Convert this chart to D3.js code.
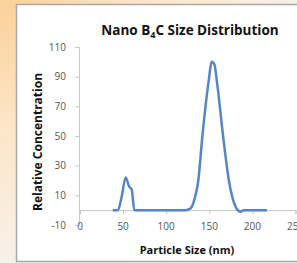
<!DOCTYPE html>
<html>
<head>
<meta charset="utf-8">
<script src="https://cdn.jsdelivr.net/npm/d3@7"></script>
<style>
  html, body { margin: 0; padding: 0; background: #fff; }
  svg { display: block; }
  .tick text { font-family: "Open Sans", sans-serif; font-size: 10px; fill: #555; }
</style>
</head>
<body>
<div id="chart"></div>
<script>
// particle size (nm) and relative concentration
const sizes = [38, 44, 48, 53, 57, 60, 63, 70, 80, 90, 100, 110, 122, 128, 131, 134, 137, 142, 149, 153, 156, 159, 166, 173, 180, 183, 186, 190, 200, 210, 217]
const concentration = [0, 0, 8, 22, 16, 14, 0, 0, 0, 0, 0, 0, 0, 1, 4, 10, 19, 50, 86, 100, 98, 86, 50, 19, 3, 0, -1, 0, 0, 0, 0]
const xTicks = [0, 50, 100, 150, 200, 250]
const yTicks = [-10, 10, 30, 50, 70, 90, 110]

const width = 297
const height = 263
const margin = {top: 47, right: 2, bottom: 38, left: 79}

const data = sizes.map((s, i) => ({x: s, y: concentration[i]}))

const svg = d3.select('#chart').append('svg')
    .attr('width', width)
    .attr('height', height)

// orange slide background behind the chart panel
const defs = svg.append('defs')
const grad = defs.append('radialGradient')
    .attr('id', 'bg')
    .attr('cx', 0).attr('cy', 0).attr('r', 1.1)
grad.append('stop').attr('offset', '0%').attr('stop-color', '#fbd09a')
grad.append('stop').attr('offset', '45%').attr('stop-color', '#fde6c9')
grad.append('stop').attr('offset', '100%').attr('stop-color', '#f6f3ef')
svg.append('rect')
    .attr('width', width).attr('height', height)
    .attr('fill', 'url(#bg)')

svg.append('rect')
    .attr('x', 16.5).attr('y', 4.5)
    .attr('width', width + 10).attr('height', 257)
    .attr('fill', '#fff')
    .attr('stroke', '#a8a8a8')
    .attr('stroke-width', 1.5)

const x = d3.scaleLinear()
    .domain([0, 250])
    .range([margin.left + 1, width - margin.right + 0.5])
const y = d3.scaleLinear()
    .domain([-10, 110])
    .range([height - margin.bottom, margin.top])

// y axis, plain hyphen for the negative label
const yAxis = d3.axisLeft(y).tickValues(yTicks).tickSize(4).tickPadding(9)
    .tickFormat(d => String(d))
const gy = svg.append('g')
    .attr('transform', 'translate(' + margin.left + ',0)')
    .call(yAxis)
gy.select('.domain').attr('stroke', '#c8c8c8')
gy.selectAll('.tick line').attr('stroke', '#c8c8c8')

// x axis line sits at zero, labels below the plot
const gx = svg.append('g')
    .attr('transform', 'translate(0,' + y(0) + ')')
    .call(d3.axisBottom(x).tickValues(xTicks).tickSize(4).tickFormat(''))
gx.select('.domain').attr('stroke', '#c8c8c8')
gx.selectAll('.tick line').attr('stroke', '#c8c8c8')

svg.append('g').selectAll('text')
    .data(xTicks)
    .join('text')
    .attr('x', d => x(d))
    .attr('y', y(-10) + 1)
    .attr('dy', '0.35em')
    .attr('text-anchor', 'middle')
    .style('font-family', '"Open Sans", sans-serif')
    .style('font-size', '10px')
    .style('fill', '#555')
    .text(d => d)

// the series
const line = d3.line()
    .x(d => x(d.x))
    .y(d => y(d.y))
    .curve(d3.curveMonotoneX)
svg.append('path')
    .datum(data)
    .attr('fill', 'none')
    .attr('stroke', '#5585c4')
    .attr('stroke-width', 2.5)
    .attr('stroke-linejoin', 'round')
    .attr('d', line)

// titles
const title = svg.append('text')
    .attr('x', 190)
    .attr('y', 35)
    .attr('text-anchor', 'middle')
    .style('font-family', '"Open Sans", sans-serif')
    .style('font-weight', 'bold')
    .style('font-size', '13.5px')
    .style('fill', '#111')
title.append('tspan').text('Nano B')
title.append('tspan').attr('dy', 3).style('font-size', '9px').text('4')
title.append('tspan').attr('dy', -3).text('C Size Distribution')

svg.append('text')
    .attr('x', 187)
    .attr('y', 254)
    .attr('text-anchor', 'middle')
    .style('font-family', '"Open Sans", sans-serif')
    .style('font-weight', 'bold')
    .style('font-size', '11px')
    .style('fill', '#111')
    .text('Particle Size (nm)')

svg.append('text')
    .attr('transform', 'translate(42,' + 142 + ')rotate(-90)')
    .attr('text-anchor', 'middle')
    .style('font-family', '"Open Sans", sans-serif')
    .style('font-weight', 'bold')
    .style('font-size', '12px')
    .style('fill', '#111')
    .text('Relative Concentration')
</script>
</body>
</html>
